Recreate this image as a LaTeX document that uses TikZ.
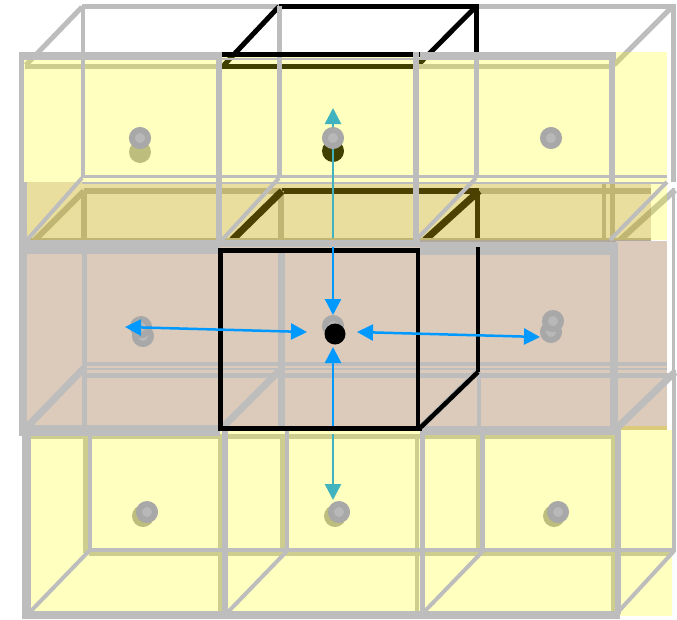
\documentclass[tikz,border=0pt]{standalone}
\usetikzlibrary{arrows.meta}
\definecolor{cellgrey}{HTML}{BDBDBD}
\definecolor{atomgrey}{HTML}{A8A8A8}
\definecolor{atomcore}{HTML}{B8B8B8}
\definecolor{midtan}{HTML}{DCCBBB}
\definecolor{sheetyellow}{RGB}{255,255,0}
\definecolor{overlapbrown}{RGB}{133,75,0}
\definecolor{hopblue}{HTML}{0099FF}
\definecolor{hopteal}{HTML}{40B3BF}
\tikzset{
  edge/.style={draw=cellgrey,line width=#1},
  edge/.default=4,
  bold/.style={draw=black,line width=#1},
  bold/.default=5,
  atom/.style={circle,draw=atomgrey,fill=atomcore,line width=6,minimum size=16,inner sep=0},
  under/.style={circle,fill=#1,draw=none,minimum size=22,inner sep=0},
  hop/.style={draw=#1,line width=2.5,>={Triangle[length=16,width=16]}}
}

\begin{document}
\begin{tikzpicture}[x=1pt,y=-1pt]
  \useasboundingbox (0,0) rectangle (677,619);

  % Points where the arrows end.
  \coordinate (upTip) at (333,108);
  \coordinate (upEnd) at (333,238);
  \coordinate (inN) at (333,247);
  \coordinate (inNTip) at (333,315);
  \coordinate (inSTip) at (333,347);
  \coordinate (inS) at (333,426);
  \coordinate (downEnd) at (333,434);
  \coordinate (downTip) at (333,500);
  \coordinate (westTip) at (125,327);
  \coordinate (westIn) at (307,332);
  \coordinate (eastIn) at (357,332);
  \coordinate (eastTip) at (540,337);

  % Top row, lines seen through the yellow.
  \draw[edge=5] (82,6.5) -- (279,6.5);
  \draw[bold] (279,6.5) -- (476,6.5);
  \draw[edge=5] (476,6.5) -- (674,6.5);
  \draw[edge=5] (82,7) -- (26,65);
  \draw[bold] (279,6.5) -- (224,65);
  \draw[bold] (476,6.5) -- (418,65);
  \draw[edge=5] (672,7) -- (614,65);
  \draw[bold] (476,4) -- (476,54);
  \draw[edge=5] (673.5,4) -- (673.5,182);
  \draw[edge=4.5] (25,66.5) -- (222,66.5);
  \draw[bold=4.5] (222,66.5) -- (416,66.5);
  \draw[edge=4.5] (416,66.5) -- (612,66.5);

  % Middle row, lines seen through the yellow and the brown.
  \draw[edge=6] (84,191) -- (282,191);
  \draw[bold=6] (282,191) -- (479,191);
  \draw[edge=6] (479,191) -- (651,191);
  \draw[edge=6] (84,191) -- (84,240);
  \draw[edge=6] (281,191) -- (281,240);
  \draw[bold=5.5] (477.5,191) -- (477.5,240);
  \draw[edge=4] (604,184) -- (604,240);
  \draw[edge=5] (612,184) -- (612,240);
  \draw[edge=6] (84,191) -- (35,240);
  \draw[bold=7] (282,191) -- (232,240);
  \draw[bold=7] (479,191) -- (425,240);
  \draw[edge=6] (675,190) -- (620,240);
  \draw[edge=4] (30,240) -- (651,240);

  % Bottom row, lines seen through the yellow.
  \draw[edge=5] (31,436) -- (614,436);
  \draw[edge=5] (85.5,434) -- (85.5,553);
  \draw[edge=4] (220,434) -- (220,612);
  \draw[edge=5] (282,434) -- (282,553);
  \draw[edge=4] (417,434) -- (417,612);
  \draw[edge=4] (478,434) -- (478,553);
  \draw[edge=4] (613,434) -- (613,612);
  \draw[edge=4] (89,554) -- (672,554);

  % Atoms behind the yellow.
  \node[under=atomgrey] (topWback) at (140,152) {};
  \node[under=black] (topCback) at (333,151) {};
  \node[under=atomgrey] (lowWback) at (143,516) {};
  \node[under=atomgrey] (lowCback) at (335,516) {};
  \node[under=atomgrey] (lowEback) at (554,516) {};

  % Sheets.
  \fill[sheetyellow,opacity=0.25] (24,52) rectangle (667,240);
  \fill[overlapbrown,opacity=0.18] (26,182) rectangle (651,246);
  \fill[midtan] (26,246) rectangle (667,430);
  \fill[midtan] (616,241) rectangle (667,246);
  \fill[sheetyellow,opacity=0.25] (31,430) rectangle (672,616);
  \fill[overlapbrown!30!sheetyellow,opacity=0.35] (615,426) rectangle (667,430);

  % Top row frame.
  \draw[edge=4] (83,6) -- (83,178);
  \draw[edge=5] (279.5,6) -- (279.5,178);
  \draw[edge=5] (476,54) -- (476,178);
  \draw[edge=3.5] (82,176.5) -- (667,176.5);
  \draw[edge=2] (82,183) -- (667,183);
  \draw[edge=4] (82,178) -- (27,240);
  \draw[edge=4] (279,178) -- (222,240);
  \draw[edge=4] (476,178) -- (416,240);
  \draw[edge=4] (667,182) -- (610,240);
  \draw[bold=5] (216,54.5) -- (420,54.5);
  \draw[edge=2.5] (216,58.75) -- (420,58.75);
  \draw[edge=8] (19,56) -- (216,56);
  \draw[edge=8] (420,56) -- (616,56);
  \draw[edge=5] (21.5,52) -- (21.5,182);
  \draw[edge=6] (219,52) -- (219,242);
  \draw[edge=6] (416,52) -- (416,242);
  \draw[edge=6] (612,60) -- (612,182);

  % Bottom row frame.
  \draw[edge=4] (90,430) -- (90,551);
  \draw[edge=4] (287,430) -- (287,551);
  \draw[edge=5] (482.5,430) -- (482.5,551);
  \draw[edge=4] (674,370) -- (674,552);
  \draw[edge=3.5] (89,550) -- (674,550);
  \draw[edge=4] (89,551) -- (30,612);
  \draw[edge=4] (287,551) -- (228,612);
  \draw[edge=4] (483,551) -- (424,612);
  \draw[edge=4] (674,551) -- (618,612);
  \draw[edge=8.5] (26.5,430) -- (26.5,619);
  \draw[edge=6] (225,430) -- (225,614);
  \draw[edge=5] (422.5,430) -- (422.5,614);
  \draw[edge=6] (618,430) -- (618,614);
  \draw[edge=8] (22,615) -- (620,615);

  % Middle row frame.
  \draw[edge=3] (673.5,188) -- (673.5,370);
  \draw[edge=5] (84.5,250) -- (84.5,428);
  \draw[edge=7] (281,250) -- (281,428);
  \draw[edge=4] (479,372) -- (479,428);
  \draw[edge=4] (84,364) -- (667,364);
  \draw[edge=2] (84,369) -- (667,369);
  \draw[edge=5] (84,375) -- (675,375);
  \draw[edge=7] (84,368) -- (26,428);
  \draw[edge=7] (282,368) -- (222,428);
  \draw[edge=6] (479,370) -- (420,428);
  \draw[edge=7] (675,372) -- (617,428);
  \draw[edge=8] (23,182) -- (23,436);
  \draw[edge=8] (613.5,252) -- (613.5,428);
  \draw[edge=11] (19,430.5) -- (220,430.5);
  \draw[edge=9] (420,430.5) -- (620,430.5);
  \draw[edge=14] (19,247) -- (220,247);
  \draw[edge=7] (216,243.5) -- (420,243.5);
  \draw[edge=13] (420,248) -- (618,248);
  \draw[bold] (218,250.5) -- (420,250.5);
  \draw[bold] (220,248) -- (220,428);
  \draw[bold=4] (417.5,248) -- (417.5,428);
  \draw[bold=4.5] (478,247) -- (478,372);
  \draw[bold=4.5] (478,372) -- (420,428);
  \draw[bold] (218,428.5) -- (422,428.5);

  % Arrows under the atoms.
  \draw[hop=hopteal,->] (upEnd) -- (upTip);
  \draw[hop=hopteal,->] (downEnd) -- (downTip);

  % Atoms.
  \node[atom] (topW) at (140,138) {};
  \node[atom] (topC) at (333,138) {};
  \node[atom] (topE) at (551,138) {};
  \node[atom] (midWa) at (143,336) {};
  \node[atom] (midWb) at (141,327) {};
  \node[atom] (midCa) at (333,326) {};
  \node[circle,fill=black,minimum size=21,inner sep=0] (midC) at (335,334) {};
  \node[atom] (midEa) at (551,332) {};
  \node[atom] (midEb) at (553,321) {};
  \node[atom] (lowW) at (147,512) {};
  \node[atom] (lowC) at (339,512) {};
  \node[atom] (lowE) at (558,512) {};

  % Arrows over the atoms.
  \draw[hop=hopblue,->] (inN) -- (inNTip);
  \draw[hop=hopblue,->] (inS) -- (inSTip);
  \draw[hop=hopblue,<->] (westTip) -- (westIn);
  \draw[hop=hopblue,<->] (eastIn) -- (eastTip);
\end{tikzpicture}
\end{document}
